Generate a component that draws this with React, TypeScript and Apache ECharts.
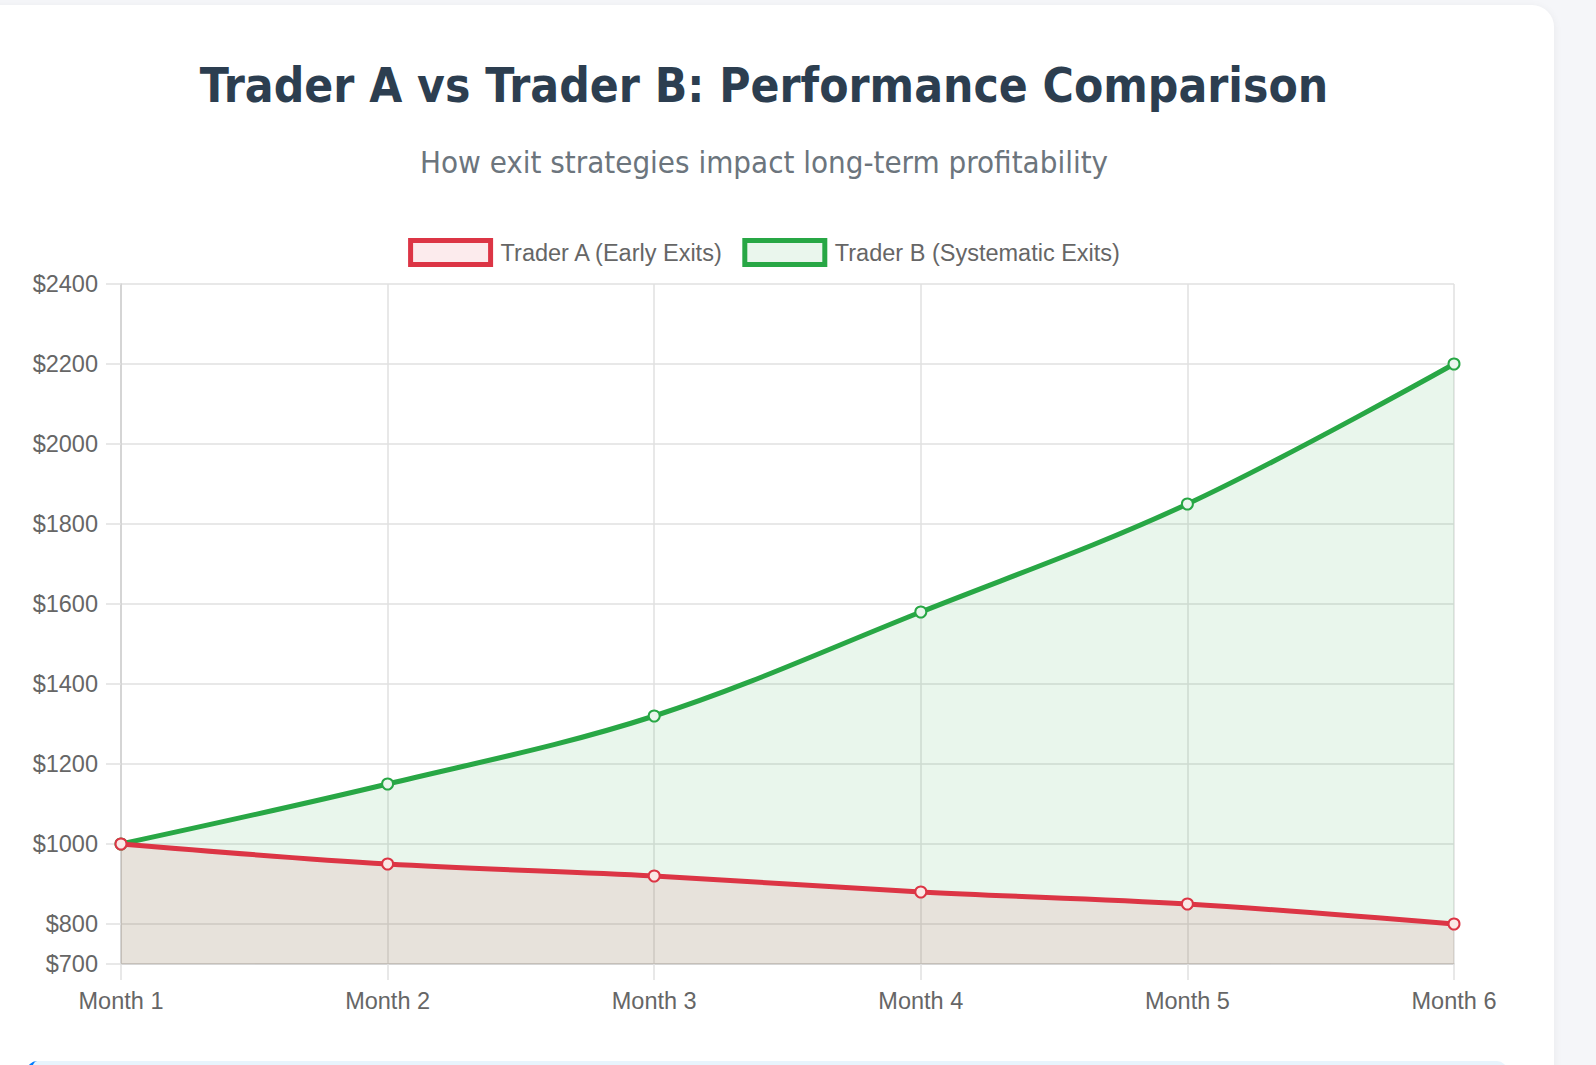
import React, { useEffect, useRef } from "react";
import * as echarts from "echarts";

const months = ["Month 1", "Month 2", "Month 3", "Month 4", "Month 5", "Month 6"];
const traderA = [1000, 950, 920, 880, 850, 800];
const traderB = [1000, 1150, 1320, 1580, 1850, 2200];
const yTicks = [700, 800, 1000, 1200, 1400, 1600, 1800, 2000, 2200, 2400];
const titleText = "Trader A vs Trader B: Performance Comparison";
const subtitleText = "How exit strategies impact long-term profitability";
const nameA = "Trader A (Early Exits)";
const nameB = "Trader B (Systematic Exits)";

const RED = "#dc3545";
const GREEN = "#28a745";
const LABEL_FONT = "'Liberation Sans', Arial, Helvetica, sans-serif";
const TITLE_FONT = "'DejaVu Sans Condensed', 'DejaVu Sans', sans-serif";

function Chart() {
  const ref = useRef<HTMLDivElement>(null);
  useEffect(() => {
    if (!ref.current) return;
    const chart = echarts.init(ref.current, undefined, { renderer: "svg" });
    chart.setOption({
      animation: false,
      title: [
        {
          text: titleText,
          left: "center",
          top: 56,
          textStyle: {
            fontFamily: TITLE_FONT,
            fontWeight: "bold",
            fontSize: 47.5,
            color: "#2c3e50",
          },
        },
        {
          text: subtitleText,
          left: "center",
          top: 141,
          textStyle: {
            fontFamily: TITLE_FONT,
            fontWeight: "normal",
            fontSize: 31,
            color: "#6c757d",
          },
        },
      ],
      legend: {
        left: "center",
        top: 233,
        itemWidth: 80,
        itemHeight: 24,
        itemGap: 18,
        textStyle: { fontFamily: LABEL_FONT, fontSize: 23.5, color: "#666", padding: [0, 0, 0, 5] },
        data: [
          {
            name: nameA,
            icon: "rect",
            itemStyle: { color: "rgba(252,235,237,1)", borderColor: RED, borderWidth: 5 },
          },
          {
            name: nameB,
            icon: "rect",
            itemStyle: { color: "rgba(234,246,237,1)", borderColor: GREEN, borderWidth: 5 },
          },
        ],
      },
      grid: { left: 121, right: 74, top: 284, bottom: 101, containLabel: false },
      xAxis: {
        type: "category",
        data: months,
        boundaryGap: false,
        axisLine: { show: true, lineStyle: { color: "#cfcfcf", width: 1.5 } },
        axisTick: { show: true, length: 16, lineStyle: { color: "#e0e0e0", width: 1.5 } },
        axisLabel: { fontFamily: LABEL_FONT, fontSize: 23.5, color: "#666", margin: 25 },
        splitLine: { show: true, lineStyle: { color: "#e0e0e0", width: 1.5 } },
      },
      yAxis: {
        type: "value",
        min: 700,
        max: 2400,
        axisLine: { show: true, lineStyle: { color: "#cfcfcf", width: 1.5 } },
        axisTick: { show: true, length: 15, customValues: yTicks, lineStyle: { color: "#e0e0e0", width: 1.5 } },
        axisLabel: {
          fontFamily: LABEL_FONT,
          fontSize: 23.5,
          color: "#666",
          margin: 23,
          customValues: yTicks,
          formatter: (v: number) => "$" + v,
        },
        splitLine: { show: true, lineStyle: { color: "#e0e0e0", width: 1.5 } },
      },
      series: [
        {
          name: nameB,
          type: "line",
          data: traderB,
          smooth: 0.35,
          symbol: "circle",
          symbolSize: 11,
          lineStyle: { color: GREEN, width: 5 },
          itemStyle: { color: "rgba(234,246,237,1)", borderColor: GREEN, borderWidth: 2 },
          areaStyle: { color: "rgba(40,167,69,0.1)", opacity: 1, origin: "start" },
          z: 2,
        },
        {
          name: nameA,
          type: "line",
          data: traderA,
          smooth: 0.35,
          symbol: "circle",
          symbolSize: 11,
          lineStyle: { color: RED, width: 5 },
          itemStyle: { color: "rgba(250,232,230,1)", borderColor: RED, borderWidth: 2 },
          areaStyle: { color: "rgba(220,53,69,0.1)", opacity: 1, origin: "start" },
          z: 3,
        },
      ],
    });
    return () => chart.dispose();
  }, []);
  return <div ref={ref} style={{ position: "absolute", left: 0, top: 0, width: 1528, height: 1065 }} />;
}

export default function App() {
  return (
    <div
      style={{
        position: "fixed",
        left: 0,
        top: 0,
        width: 1596,
        height: 1065,
        background: "#f5f6f9",
        overflow: "hidden",
      }}
    >
      <div
        style={{
          position: "absolute",
          left: -30,
          top: 5,
          width: 1584,
          height: 1120,
          background: "#ffffff",
          borderRadius: 22,
          boxShadow: "0 2px 10px rgba(0,0,0,0.06)",
        }}
      />
      <div
        style={{
          position: "absolute",
          left: 27,
          top: 1061,
          width: 1475,
          height: 80,
          background: "#e8f4fd",
          borderLeft: "5px solid #007bff",
          borderRadius: 10,
        }}
      />
      <Chart />
    </div>
  );
}
